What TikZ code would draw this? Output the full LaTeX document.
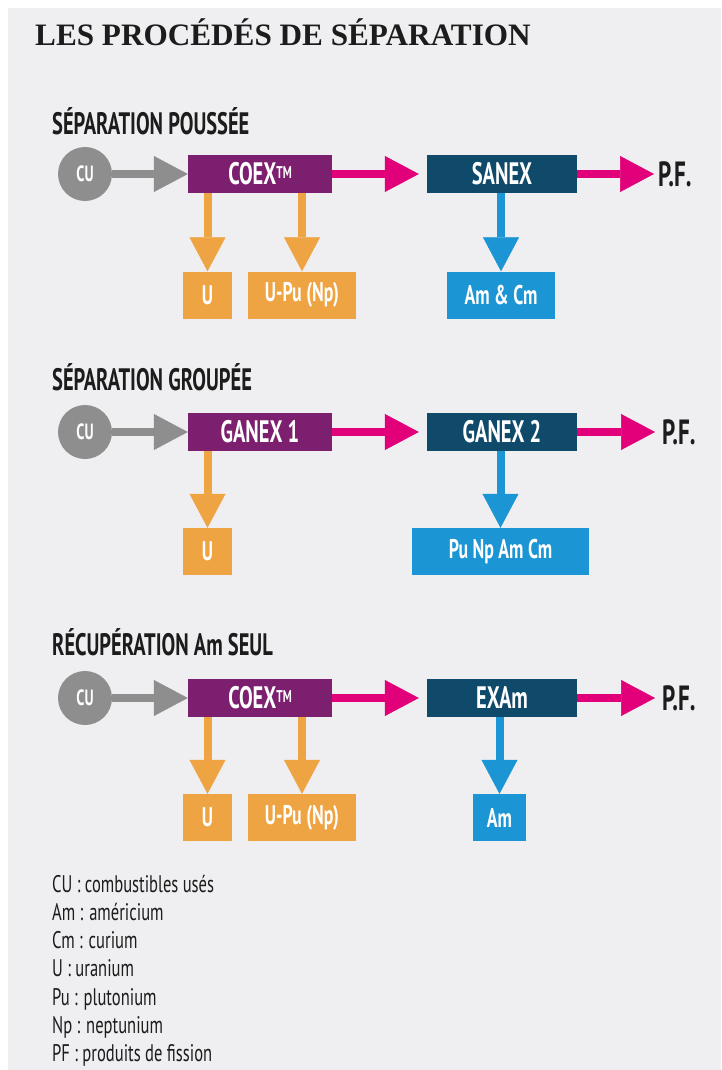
\documentclass[tikz,border=0pt]{standalone}
\usepackage{fontspec}
\setmainfont{Liberation Serif}
\newfontfamily\condfont[FakeStretch=0.69]{PT Sans}
\newfontfamily\condbold[FakeStretch=0.66]{PT Sans Bold}
\usetikzlibrary{arrows.meta}

\definecolor{bgpaper}{HTML}{EFEFF1}
\definecolor{cugray}{HTML}{8E8E8E}
\definecolor{coexpurple}{HTML}{7C1F6F}
\definecolor{flowpink}{HTML}{E2007A}
\definecolor{darkteal}{HTML}{0F4A6B}
\definecolor{prodorange}{HTML}{EFA443}
\definecolor{prodblue}{HTML}{1B95D3}
\definecolor{inkblack}{HTML}{1C1C1C}

\begin{document}
\begin{tikzpicture}[x=1pt,y=-1pt,
    heading/.style={anchor=base west, inner sep=0pt, text=inkblack,
      font=\condbold\fontsize{31}{32}\selectfont},
    cunode/.style={circle, fill=cugray, minimum size=54pt, inner sep=0pt,
      text=white, font=\condbold\fontsize{22}{22}\selectfont},
    stagebox/.style={rectangle, minimum height=38pt, inner sep=0pt,
      text=white, font=\condbold\fontsize{31}{31}\selectfont},
    prodbox/.style={rectangle, minimum height=47pt, inner sep=0pt,
      text=white, font=\condbold\fontsize{27}{27}\selectfont},
    pfnode/.style={anchor=west, inner sep=0pt, text=inkblack,
      font=\condbold\fontsize{35}{35}\selectfont},
    legend/.style={anchor=base west, inner sep=0pt, text=inkblack,
      font=\condfont\fontsize{24}{24}\selectfont},
    flow/.style={line width=8pt, -{Triangle[length=34pt,width=36pt,line width=0.5pt]}}
  ]
% fond
\useasboundingbox (0,0) rectangle (721,1070);
\fill[bgpaper] (8,8) rectangle (721,1070);

\node[anchor=base west, inner sep=0pt, text=inkblack,
  font=\bfseries\fontsize{31.2}{31.2}\selectfont] (title) at (35,46) {LES PROCÉDÉS DE SÉPARATION};

% séparation poussée
\node[heading] (head1) at (52,135) {SÉPARATION POUSSÉE};
\node[cunode] (cu1) at (85,174) {CU};
\node[stagebox, fill=coexpurple, minimum width=144pt] (coex1) at (260,174) {COEX\raisebox{6pt}{\fontsize{17}{17}\selectfont TM}};
\node[stagebox, fill=darkteal, minimum width=150pt] (sanex) at (502,174) {SANEX};
\node[pfnode] (pf1) at (658,174) {P.F.};
\node[prodbox, fill=prodorange, minimum width=49pt] (u1) at (207.5,295) {U};
\node[prodbox, fill=prodorange, minimum width=108pt] (upu1) at (302,295) {U-Pu (Np)};
\node[prodbox, fill=prodblue, minimum width=108pt] (amcm) at (501,295) {Am \& Cm};

\draw[flow, cugray] (cu1.east) -- (coex1.west);
\draw[flow, flowpink, shorten >=8pt] (coex1.east) -- (sanex.west);
\draw[flow, flowpink, shorten >=4pt] (sanex.east) -- (pf1.west);
\draw[flow, prodorange] (coex1.south -| u1) -- (u1.north);
\draw[flow, prodorange] (coex1.south -| upu1) -- (upu1.north);
\draw[flow, prodblue] (sanex.south -| amcm) -- (amcm.north);

% séparation groupée
\node[heading] (head2) at (52,390) {SÉPARATION GROUPÉE};
\node[cunode] (cu2) at (85,432) {CU};
\node[stagebox, fill=coexpurple, minimum width=144pt] (ganex1) at (260,432) {GANEX 1};
\node[stagebox, fill=darkteal, minimum width=150pt] (ganex2) at (502,432) {GANEX 2};
\node[pfnode] (pf2) at (662,432) {P.F.};
\node[prodbox, fill=prodorange, minimum width=49pt] (u2) at (207.5,551.5) {U};
\node[prodbox, fill=prodblue, minimum width=177pt] (pnac) at (500.5,551.5) {Pu Np Am Cm};

\draw[flow, cugray] (cu2.east) -- (ganex1.west);
\draw[flow, flowpink, shorten >=8pt] (ganex1.east) -- (ganex2.west);
\draw[flow, flowpink, shorten >=7pt] (ganex2.east) -- (pf2.west);
\draw[flow, prodorange] (ganex1.south -| u2) -- (u2.north);
\draw[flow, prodblue] (ganex2.south -| pnac) -- (pnac.north);

% récupération Am seul
\node[heading] (head3) at (52,655) {RÉCUPÉRATION Am SEUL};
\node[cunode] (cu3) at (85,698) {CU};
\node[stagebox, fill=coexpurple, minimum width=144pt] (coex3) at (260,698) {COEX\raisebox{6pt}{\fontsize{17}{17}\selectfont TM}};
\node[stagebox, fill=darkteal, minimum width=150pt] (exam) at (502,698) {EXAm};
\node[pfnode] (pf3) at (662,698) {P.F.};
\node[prodbox, fill=prodorange, minimum width=49pt] (u3) at (207.5,817.5) {U};
\node[prodbox, fill=prodorange, minimum width=108pt] (upu3) at (302,817.5) {U-Pu (Np)};
\node[prodbox, fill=prodblue, minimum width=53pt] (am) at (499.5,817.5) {Am};

\draw[flow, cugray] (cu3.east) -- (coex3.west);
\draw[flow, flowpink, shorten >=8pt] (coex3.east) -- (exam.west);
\draw[flow, flowpink, shorten >=7pt] (exam.east) -- (pf3.west);
\draw[flow, prodorange] (coex3.south -| u3) -- (u3.north);
\draw[flow, prodorange] (coex3.south -| upu3) -- (upu3.north);
\draw[flow, prodblue] (exam.south -| am) -- (am.north);

% légende
\foreach \abbr/\full [count=\i] in {CU/combustibles usés, Am/américium, Cm/curium,
    U/uranium, Pu/plutonium, Np/neptunium, PF/produits de fission}
  \node[legend] (leg\i) at (52,{892+28.3*(\i-1)}) {\abbr\ : \full};
\end{tikzpicture}
\end{document}
